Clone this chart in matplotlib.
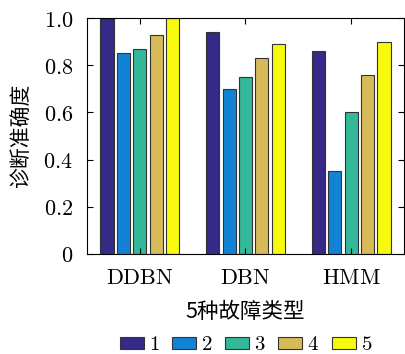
import numpy as np
import matplotlib
matplotlib.use("Agg")
import matplotlib.pyplot as plt

plt.rcParams['font.family'] = ['DejaVu Serif', 'Noto Sans CJK SC']
plt.rcParams['mathtext.fontset'] = 'cm'

# 数据
methods = ['DDBN', 'DBN', 'HMM']
series = ['1', '2', '3', '4', '5']
acc_1 = [1.00, 0.94, 0.86]
acc_2 = [0.85, 0.70, 0.35]
acc_3 = [0.87, 0.75, 0.60]
acc_4 = [0.93, 0.83, 0.76]
acc_5 = [1.00, 0.89, 0.90]
y_ticks = [0, 0.2, 0.4, 0.6, 0.8, 1.0]
y_tick_labels = ['0', '0.2', '0.4', '0.6', '0.8', '1.0']

colors = ['#352a87', '#1283d4', '#33b89a', '#d8bb59', '#f8fa0d']
all_acc = [acc_1, acc_2, acc_3, acc_4, acc_5]

fig = plt.figure(figsize=(4.05, 3.54), dpi=100)
ax = fig.add_axes([87 / 405, 1 - 254 / 354, 317 / 405, 236 / 354])

x = np.arange(1, len(methods) + 1)
pitch = 0.155
width = 0.125
for i, (vals, c, name) in enumerate(zip(all_acc, colors, series)):
    ax.bar(x + (i - 2) * pitch, vals, width, color=c, edgecolor='#333333',
           linewidth=0.8, label='$' + name + '$')

ax.set_xlim(0.5, 3.5)
ax.set_ylim(0, 1.0)
ax.set_xticks(x)
ax.set_xticklabels(['$\\mathrm{' + m + '}$' for m in methods], fontsize=16)
ax.set_yticks(y_ticks)
ax.set_yticklabels(['$' + t + '$' for t in y_tick_labels], fontsize=16)
ax.tick_params(direction='in', top=True, right=True, length=4, pad=10)
ax.tick_params(axis='x', pad=9)

ax.set_xlabel('5种故障类型', family=['Noto Sans CJK SC'], fontsize=15.5, labelpad=9)
ax.set_ylabel('诊断准确度', family=['Noto Sans CJK SC'], fontsize=15, labelpad=8)

fig.legend(loc='center', bbox_to_anchor=(246 / 405, 1 - 345 / 354), ncol=5, frameon=False,
           fontsize=15, handlelength=1.15, handleheight=0.55, handletextpad=0.25,
           columnspacing=0.6, borderpad=0)

fig.savefig('out.png', dpi=100)
